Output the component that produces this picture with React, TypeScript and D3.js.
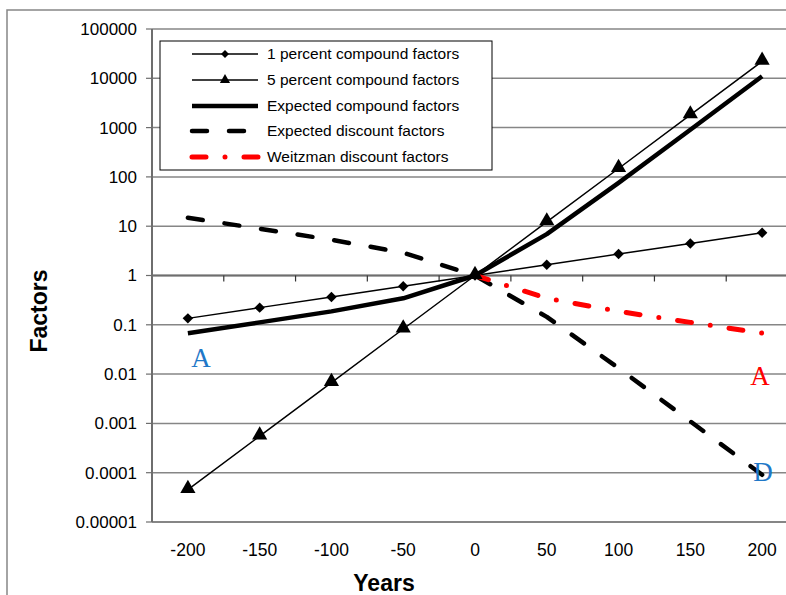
import { useEffect, useRef } from 'react';
import * as d3 from 'd3';

const years = [-200, -150, -100, -50, 0, 50, 100, 150, 200];
const onePercent = [0.135, 0.223, 0.368, 0.607, 1, 1.65, 2.72, 4.48, 7.39];
const fivePercent = [0.0000454, 0.000553, 0.00674, 0.0821, 1, 12.2, 148, 1808, 22026];
const expectedCompound = [0.0677, 0.112, 0.187, 0.345, 1, 6.92, 75.6, 906, 11017];
const expectedDiscount = [14.8, 8.9, 5.3, 2.9, 1, 0.145, 0.0132, 0.0011, 0.0000908];
const weitzmanYears = [0, 50, 100, 150, 200];
const weitzman = [1, 0.345, 0.187, 0.112, 0.0677];
const yTicks = [0.00001, 0.0001, 0.001, 0.01, 0.1, 1, 10, 100, 1000, 10000, 100000];
const yTickLabels = ['0.00001', '0.0001', '0.001', '0.01', '0.1', '1', '10', '100', '1000', '10000', '100000'];
const legendLabels = [
  '1 percent compound factors',
  '5 percent compound factors',
  'Expected compound factors',
  'Expected discount factors',
  'Weitzman discount factors',
];

const W = 786;
const H = 595;
const GRID = '#868686';
const BLUE = '#1f78c8';
const FONT = 'Arial, "Liberation Sans", sans-serif';

const App = () => {
  const svgRef = useRef<SVGSVGElement>(null);

  useEffect(() => {
    const svg = d3.select(svgRef.current);
    svg.selectAll('*').remove();

    const left = 152;
    const top = 29;
    const bottom = 522;

    const x = d3.scaleBand<number>().domain(years).range([left, 798]).padding(0);
    const cx = (v: number) => (x(v) as number) + x.bandwidth() / 2;
    const y = d3.scaleLog().domain([1e-5, 1e5]).range([bottom, top]);

    // chart border
    svg.append('rect')
      .attr('x', 7).attr('y', 10).attr('width', 800).attr('height', 600)
      .attr('fill', 'white').attr('stroke', GRID).attr('stroke-width', 1.5);

    // gridlines
    svg.append('g').selectAll('line').data(yTicks).enter().append('line')
      .attr('x1', left).attr('x2', W)
      .attr('y1', d => y(d)).attr('y2', d => y(d))
      .attr('stroke', GRID).attr('stroke-width', d => (d === 1e-5 ? 2 : 1.5));

    // y axis
    svg.append('line')
      .attr('x1', left).attr('x2', left).attr('y1', top).attr('y2', bottom)
      .attr('stroke', '#6e6e6e').attr('stroke-width', 2);
    const yAxis = svg.append('g');
    yAxis.selectAll('line').data(yTicks).enter().append('line')
      .attr('x1', left - 6).attr('x2', left)
      .attr('y1', d => y(d)).attr('y2', d => y(d))
      .attr('stroke', '#6e6e6e').attr('stroke-width', 1.2);
    yAxis.selectAll('text').data(yTicks).enter().append('text')
      .attr('x', left - 15).attr('y', d => y(d))
      .attr('dy', '0.35em')
      .attr('text-anchor', 'end')
      .attr('font-family', FONT).attr('font-size', 17)
      .attr('fill', '#000')
      .text((d, i) => yTickLabels[i]);

    // x axis crossing at 1, ticks between categories
    const y1 = y(1);
    svg.append('line')
      .attr('x1', left).attr('x2', W).attr('y1', y1).attr('y2', y1)
      .attr('stroke', '#6e6e6e').attr('stroke-width', 2);
    const xAxis = svg.append('g');
    xAxis.selectAll('line').data(years.slice(1)).enter().append('line')
      .attr('x1', d => x(d) as number).attr('x2', d => x(d) as number)
      .attr('y1', y1).attr('y2', y1 + 6)
      .attr('stroke', '#333').attr('stroke-width', 1.2);
    xAxis.selectAll('text').data(years).enter().append('text')
      .attr('x', d => cx(d)).attr('y', 556)
      .attr('text-anchor', 'middle')
      .attr('font-family', FONT).attr('font-size', 17.5)
      .text(d => String(d));

    // axis titles
    svg.append('text')
      .attr('transform', 'translate(47,311) rotate(-90)')
      .attr('text-anchor', 'middle')
      .attr('font-family', FONT).attr('font-size', 23).attr('font-weight', 700)
      .text('Factors');
    svg.append('text')
      .attr('x', 384).attr('y', 591)
      .attr('text-anchor', 'middle')
      .attr('font-family', FONT).attr('font-size', 23).attr('font-weight', 700)
      .text('Years');

    const line = d3.line<[number, number]>().x(d => cx(d[0])).y(d => y(d[1]));
    const pairs = (vals: number[], keys = years) => keys.map((k, i) => [k, vals[i]] as [number, number]);

    const series = [
      { vals: onePercent, keys: years, stroke: '#000', width: 1.5, dash: null },
      { vals: fivePercent, keys: years, stroke: '#000', width: 1.5, dash: null },
      { vals: expectedCompound, keys: years, stroke: '#000', width: 4.5, dash: null },
      { vals: expectedDiscount, keys: years, stroke: '#000', width: 4.5, dash: '15 22' },
      { vals: weitzman, keys: weitzmanYears, stroke: '#ff0000', width: 5, dash: '14 19 0 19' },
    ];

    const gl = svg.append('g');
    series.forEach(s => {
      gl.append('path')
        .attr('d', line(pairs(s.vals, s.keys)))
        .attr('fill', 'none')
        .attr('stroke', s.stroke)
        .attr('stroke-width', s.width)
        .attr('stroke-linecap', s.dash ? 'round' : 'butt')
        .attr('stroke-linejoin', 'round')
        .attr('stroke-dasharray', s.dash);
    });

    const diamond = d3.symbol().type(d3.symbolDiamond2).size(70);
    const triangle = d3.symbol().type(d3.symbolTriangle).size(100);

    gl.selectAll('path.dm').data(pairs(onePercent)).enter().append('path')
      .attr('class', 'dm')
      .attr('transform', d => `translate(${cx(d[0])},${y(d[1])})`)
      .attr('d', diamond());
    gl.selectAll('path.tr').data(pairs(fivePercent)).enter().append('path')
      .attr('class', 'tr')
      .attr('transform', d => `translate(${cx(d[0])},${y(d[1]) - 1})`)
      .attr('d', triangle());

    // letter annotations
    const notes = [
      { t: 'A', x: 201, y: 367, c: BLUE },
      { t: 'A', x: 760, y: 385, c: '#ff0000' },
      { t: 'D', x: 763, y: 481, c: BLUE },
    ];
    svg.append('g').selectAll('text').data(notes).enter().append('text')
      .attr('x', d => d.x).attr('y', d => d.y)
      .attr('text-anchor', 'middle')
      .attr('font-family', '"Times New Roman", "Liberation Serif", serif')
      .attr('font-size', 27)
      .attr('fill', d => d.c)
      .text(d => d.t);

    // legend
    const lg = svg.append('g');
    lg.append('rect')
      .attr('x', 160).attr('y', 41).attr('width', 332).attr('height', 129)
      .attr('fill', 'white').attr('stroke', '#000').attr('stroke-width', 1);
    const rowY = [54, 80, 106, 131, 157];
    series.forEach((s, i) => {
      const ry = rowY[i];
      lg.append('line')
        .attr('x1', 192).attr('x2', 258).attr('y1', ry).attr('y2', ry)
        .attr('stroke', s.stroke)
        .attr('stroke-width', s.width)
        .attr('stroke-linecap', s.dash ? 'round' : 'butt')
        .attr('stroke-dasharray', s.dash);
      lg.append('text')
        .attr('x', 267).attr('y', ry).attr('dy', '0.35em')
        .attr('font-family', FONT).attr('font-size', 15.5)
        .text(legendLabels[i]);
    });
    lg.append('path').attr('transform', 'translate(225,54)').attr('d', d3.symbol().type(d3.symbolDiamond2).size(40)());
    lg.append('path').attr('transform', 'translate(225,80)').attr('d', d3.symbol().type(d3.symbolTriangle).size(45)());
  }, []);

  return (
    <svg
      ref={svgRef}
      width={W}
      height={H}
      style={{ position: 'absolute', left: 0, top: 0, display: 'block', background: '#fff' }}
    />
  );
};

export default App;
